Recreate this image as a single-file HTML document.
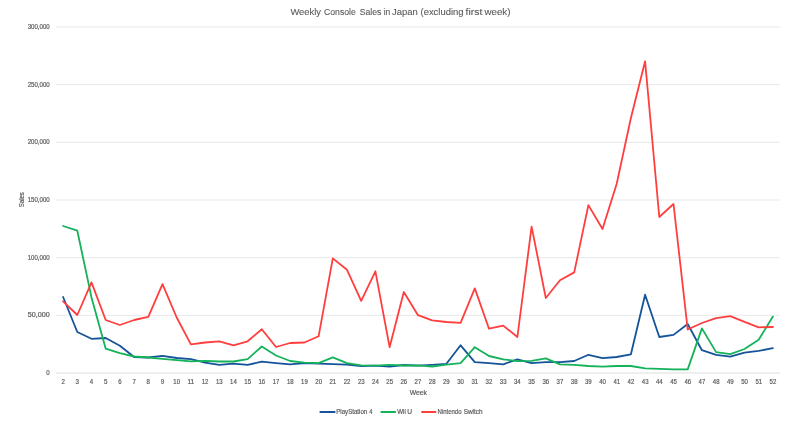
<!DOCTYPE html>
<html lang="en"><head><meta charset="utf-8"><title>Weekly Console Sales in Japan</title>
<style>html,body{margin:0;padding:0;background:#fff;overflow:hidden}svg{display:block}text{font-family:"Liberation Sans",sans-serif;fill:#595959;stroke:#595959;stroke-width:.18px}</style></head><body>
<svg width="800" height="423" viewBox="0 0 800 423">
<rect width="800" height="423" fill="#fff"/>
<line x1="56.0" x2="780.0" y1="315.33" y2="315.33" stroke="#e8e8e8" stroke-width="1"/>
<line x1="56.0" x2="780.0" y1="257.67" y2="257.67" stroke="#e8e8e8" stroke-width="1"/>
<line x1="56.0" x2="780.0" y1="200.00" y2="200.00" stroke="#e8e8e8" stroke-width="1"/>
<line x1="56.0" x2="780.0" y1="142.33" y2="142.33" stroke="#e8e8e8" stroke-width="1"/>
<line x1="56.0" x2="780.0" y1="84.67" y2="84.67" stroke="#e8e8e8" stroke-width="1"/>
<line x1="56.0" x2="780.0" y1="27.00" y2="27.00" stroke="#e8e8e8" stroke-width="1"/>
<line x1="56.0" x2="780.0" y1="373.0" y2="373.0" stroke="#dedede" stroke-width="1.2"/>
<text x="46.3" y="375.05" font-size="6.5" textLength="3.4" lengthAdjust="spacingAndGlyphs">0</text>
<text x="27.7" y="317.38" font-size="6.5" textLength="22.0" lengthAdjust="spacingAndGlyphs">50,000</text>
<text x="27.7" y="259.72" font-size="6.5" textLength="22.0" lengthAdjust="spacingAndGlyphs">100,000</text>
<text x="27.7" y="202.05" font-size="6.5" textLength="22.0" lengthAdjust="spacingAndGlyphs">150,000</text>
<text x="27.7" y="144.38" font-size="6.5" textLength="22.0" lengthAdjust="spacingAndGlyphs">200,000</text>
<text x="27.7" y="86.72" font-size="6.5" textLength="22.0" lengthAdjust="spacingAndGlyphs">250,000</text>
<text x="27.7" y="29.05" font-size="6.5" textLength="22.0" lengthAdjust="spacingAndGlyphs">300,000</text>
<text x="61.4" y="383.6" font-size="6.5" textLength="3.4" lengthAdjust="spacingAndGlyphs">2</text>
<text x="75.6" y="383.6" font-size="6.5" textLength="3.4" lengthAdjust="spacingAndGlyphs">3</text>
<text x="89.8" y="383.6" font-size="6.5" textLength="3.4" lengthAdjust="spacingAndGlyphs">4</text>
<text x="104.0" y="383.6" font-size="6.5" textLength="3.4" lengthAdjust="spacingAndGlyphs">5</text>
<text x="118.2" y="383.6" font-size="6.5" textLength="3.4" lengthAdjust="spacingAndGlyphs">6</text>
<text x="132.4" y="383.6" font-size="6.5" textLength="3.4" lengthAdjust="spacingAndGlyphs">7</text>
<text x="146.6" y="383.6" font-size="6.5" textLength="3.4" lengthAdjust="spacingAndGlyphs">8</text>
<text x="160.8" y="383.6" font-size="6.5" textLength="3.4" lengthAdjust="spacingAndGlyphs">9</text>
<text x="173.3" y="383.6" font-size="6.5" textLength="6.7" lengthAdjust="spacingAndGlyphs">10</text>
<text x="187.5" y="383.6" font-size="6.5" textLength="6.7" lengthAdjust="spacingAndGlyphs">11</text>
<text x="201.7" y="383.6" font-size="6.5" textLength="6.7" lengthAdjust="spacingAndGlyphs">12</text>
<text x="215.9" y="383.6" font-size="6.5" textLength="6.7" lengthAdjust="spacingAndGlyphs">13</text>
<text x="230.1" y="383.6" font-size="6.5" textLength="6.7" lengthAdjust="spacingAndGlyphs">14</text>
<text x="244.3" y="383.6" font-size="6.5" textLength="6.7" lengthAdjust="spacingAndGlyphs">15</text>
<text x="258.5" y="383.6" font-size="6.5" textLength="6.7" lengthAdjust="spacingAndGlyphs">16</text>
<text x="272.7" y="383.6" font-size="6.5" textLength="6.7" lengthAdjust="spacingAndGlyphs">17</text>
<text x="286.9" y="383.6" font-size="6.5" textLength="6.7" lengthAdjust="spacingAndGlyphs">18</text>
<text x="301.1" y="383.6" font-size="6.5" textLength="6.7" lengthAdjust="spacingAndGlyphs">19</text>
<text x="315.3" y="383.6" font-size="6.5" textLength="6.7" lengthAdjust="spacingAndGlyphs">20</text>
<text x="329.5" y="383.6" font-size="6.5" textLength="6.7" lengthAdjust="spacingAndGlyphs">21</text>
<text x="343.7" y="383.6" font-size="6.5" textLength="6.7" lengthAdjust="spacingAndGlyphs">22</text>
<text x="357.9" y="383.6" font-size="6.5" textLength="6.7" lengthAdjust="spacingAndGlyphs">23</text>
<text x="372.1" y="383.6" font-size="6.5" textLength="6.7" lengthAdjust="spacingAndGlyphs">24</text>
<text x="386.3" y="383.6" font-size="6.5" textLength="6.7" lengthAdjust="spacingAndGlyphs">25</text>
<text x="400.5" y="383.6" font-size="6.5" textLength="6.7" lengthAdjust="spacingAndGlyphs">26</text>
<text x="414.6" y="383.6" font-size="6.5" textLength="6.7" lengthAdjust="spacingAndGlyphs">27</text>
<text x="428.8" y="383.6" font-size="6.5" textLength="6.7" lengthAdjust="spacingAndGlyphs">28</text>
<text x="443.0" y="383.6" font-size="6.5" textLength="6.7" lengthAdjust="spacingAndGlyphs">29</text>
<text x="457.2" y="383.6" font-size="6.5" textLength="6.7" lengthAdjust="spacingAndGlyphs">30</text>
<text x="471.4" y="383.6" font-size="6.5" textLength="6.7" lengthAdjust="spacingAndGlyphs">31</text>
<text x="485.6" y="383.6" font-size="6.5" textLength="6.7" lengthAdjust="spacingAndGlyphs">32</text>
<text x="499.8" y="383.6" font-size="6.5" textLength="6.7" lengthAdjust="spacingAndGlyphs">33</text>
<text x="514.0" y="383.6" font-size="6.5" textLength="6.7" lengthAdjust="spacingAndGlyphs">34</text>
<text x="528.2" y="383.6" font-size="6.5" textLength="6.7" lengthAdjust="spacingAndGlyphs">35</text>
<text x="542.4" y="383.6" font-size="6.5" textLength="6.7" lengthAdjust="spacingAndGlyphs">36</text>
<text x="556.6" y="383.6" font-size="6.5" textLength="6.7" lengthAdjust="spacingAndGlyphs">37</text>
<text x="570.8" y="383.6" font-size="6.5" textLength="6.7" lengthAdjust="spacingAndGlyphs">38</text>
<text x="585.0" y="383.6" font-size="6.5" textLength="6.7" lengthAdjust="spacingAndGlyphs">39</text>
<text x="599.2" y="383.6" font-size="6.5" textLength="6.7" lengthAdjust="spacingAndGlyphs">40</text>
<text x="613.4" y="383.6" font-size="6.5" textLength="6.7" lengthAdjust="spacingAndGlyphs">41</text>
<text x="627.6" y="383.6" font-size="6.5" textLength="6.7" lengthAdjust="spacingAndGlyphs">42</text>
<text x="641.8" y="383.6" font-size="6.5" textLength="6.7" lengthAdjust="spacingAndGlyphs">43</text>
<text x="656.0" y="383.6" font-size="6.5" textLength="6.7" lengthAdjust="spacingAndGlyphs">44</text>
<text x="670.2" y="383.6" font-size="6.5" textLength="6.7" lengthAdjust="spacingAndGlyphs">45</text>
<text x="684.4" y="383.6" font-size="6.5" textLength="6.7" lengthAdjust="spacingAndGlyphs">46</text>
<text x="698.6" y="383.6" font-size="6.5" textLength="6.7" lengthAdjust="spacingAndGlyphs">47</text>
<text x="712.8" y="383.6" font-size="6.5" textLength="6.7" lengthAdjust="spacingAndGlyphs">48</text>
<text x="727.0" y="383.6" font-size="6.5" textLength="6.7" lengthAdjust="spacingAndGlyphs">49</text>
<text x="741.2" y="383.6" font-size="6.5" textLength="6.7" lengthAdjust="spacingAndGlyphs">50</text>
<text x="755.4" y="383.6" font-size="6.5" textLength="6.7" lengthAdjust="spacingAndGlyphs">51</text>
<text x="769.6" y="383.6" font-size="6.5" textLength="6.7" lengthAdjust="spacingAndGlyphs">52</text>
<text x="409.7" y="395.2" font-size="7" textLength="17.2" lengthAdjust="spacingAndGlyphs">Week</text>
<text transform="translate(23.7,207.3) rotate(-90)" font-size="7" textLength="15.2" lengthAdjust="spacingAndGlyphs">Sales</text>
<text x="290.4" y="15.2" font-size="9.7" textLength="30.6" lengthAdjust="spacingAndGlyphs" style="stroke-width:.1px">Weekly</text>
<text x="324.0" y="15.2" font-size="9.7" textLength="31.8" lengthAdjust="spacingAndGlyphs" style="stroke-width:.1px">Console</text>
<text x="359.7" y="15.2" font-size="9.7" textLength="21.6" lengthAdjust="spacingAndGlyphs" style="stroke-width:.1px">Sales</text>
<text x="383.7" y="15.2" font-size="9.7" textLength="6.6" lengthAdjust="spacingAndGlyphs" style="stroke-width:.1px">in</text>
<text x="392.0" y="15.2" font-size="9.7" textLength="25.8" lengthAdjust="spacingAndGlyphs" style="stroke-width:.1px">Japan</text>
<text x="420.5" y="15.2" font-size="9.7" textLength="43.0" lengthAdjust="spacingAndGlyphs" style="stroke-width:.1px">(excluding</text>
<text x="465.5" y="15.2" font-size="9.7" textLength="16.8" lengthAdjust="spacingAndGlyphs" style="stroke-width:.1px">first</text>
<text x="484.4" y="15.2" font-size="9.7" textLength="26.1" lengthAdjust="spacingAndGlyphs" style="stroke-width:.1px">week)</text>
<polyline fill="none" stroke="#15539a" stroke-width="1.8" stroke-linejoin="round" stroke-linecap="round" points="63.1,297.0 77.3,332.0 91.5,338.8 105.7,338.0 119.9,345.8 134.1,357.0 148.3,357.5 162.5,355.8 176.7,358.0 190.9,359.2 205.1,362.7 219.3,364.8 233.5,363.6 247.6,364.8 261.8,361.7 276.0,363.1 290.2,364.3 304.4,363.1 318.6,363.6 332.8,364.1 347.0,364.6 361.2,366.0 375.4,365.7 389.6,366.7 403.8,365.0 418.0,365.7 432.2,364.8 446.4,363.8 460.6,345.3 474.8,362.2 489.0,363.1 503.2,364.3 517.4,359.3 531.6,363.1 545.8,362.2 560.0,362.2 574.2,361.0 588.4,354.8 602.5,358.1 616.7,357.0 630.9,354.3 645.1,294.7 659.3,337.0 673.5,334.9 687.7,324.0 701.9,350.2 716.1,354.8 730.3,356.6 744.5,352.6 758.7,350.9 772.9,348.2"/>
<polyline fill="none" stroke="#14b259" stroke-width="1.8" stroke-linejoin="round" stroke-linecap="round" points="63.1,226.0 77.3,230.7 91.5,297.4 105.7,348.7 119.9,353.2 134.1,356.5 148.3,357.5 162.5,358.8 176.7,360.2 190.9,361.4 205.1,360.8 219.3,361.5 233.5,361.5 247.6,359.1 261.8,346.5 276.0,355.5 290.2,361.0 304.4,362.7 318.6,363.1 332.8,357.4 347.0,363.1 361.2,365.3 375.4,365.6 389.6,364.8 403.8,365.5 418.0,365.3 432.2,366.5 446.4,364.6 460.6,363.1 474.8,347.2 489.0,356.0 503.2,359.3 517.4,361.2 531.6,360.8 545.8,358.4 560.0,364.4 574.2,364.8 588.4,366.0 602.5,366.7 616.7,366.0 630.9,366.0 645.1,368.4 659.3,368.8 673.5,369.3 687.7,369.4 701.9,328.4 716.1,352.1 730.3,354.1 744.5,349.0 758.7,339.8 772.9,316.5"/>
<polyline fill="none" stroke="#ff3e3e" stroke-width="1.8" stroke-linejoin="round" stroke-linecap="round" points="63.1,301.3 77.3,315.0 91.5,282.4 105.7,320.0 119.9,325.0 134.1,320.0 148.3,316.8 162.5,284.2 176.7,317.5 190.9,344.3 205.1,342.5 219.3,341.3 233.5,345.3 247.6,341.3 261.8,329.2 276.0,347.0 290.2,343.0 304.4,342.5 318.6,336.3 332.8,258.4 347.0,269.8 361.2,300.9 375.4,271.3 389.6,347.2 403.8,292.0 418.0,315.2 432.2,320.4 446.4,322.0 460.6,322.8 474.8,288.4 489.0,328.7 503.2,325.6 517.4,337.0 531.6,226.6 545.8,298.0 560.0,280.3 574.2,272.4 588.4,205.1 602.5,229.0 616.7,183.8 630.9,118.0 645.1,61.3 659.3,217.0 673.5,204.0 687.7,329.5 701.9,323.0 716.1,318.2 730.3,316.1 744.5,321.9 758.7,327.3 772.9,327.0"/>
<line x1="320.3" x2="334.7" y1="412" y2="412" stroke="#15539a" stroke-width="1.8" stroke-linecap="round"/>
<text x="336.25" y="414.3" font-size="6.5" textLength="31.0" lengthAdjust="spacingAndGlyphs">PlayStation</text>
<text x="369.15" y="414.3" font-size="6.5" textLength="3.2" lengthAdjust="spacingAndGlyphs">4</text>
<line x1="381.3" x2="395.2" y1="412" y2="412" stroke="#14b259" stroke-width="1.8" stroke-linecap="round"/>
<text x="397.25" y="414.3" font-size="6.5" textLength="8.6" lengthAdjust="spacingAndGlyphs">Wii</text>
<text x="407.35" y="414.3" font-size="6.5" textLength="4.8" lengthAdjust="spacingAndGlyphs">U</text>
<line x1="422.0" x2="435.5" y1="412" y2="412" stroke="#ff3e3e" stroke-width="1.8" stroke-linecap="round"/>
<text x="437.55" y="414.3" font-size="6.5" textLength="24.0" lengthAdjust="spacingAndGlyphs">Nintendo</text>
<text x="463.75" y="414.3" font-size="6.5" textLength="18.8" lengthAdjust="spacingAndGlyphs">Switch</text>
</svg></body></html>
